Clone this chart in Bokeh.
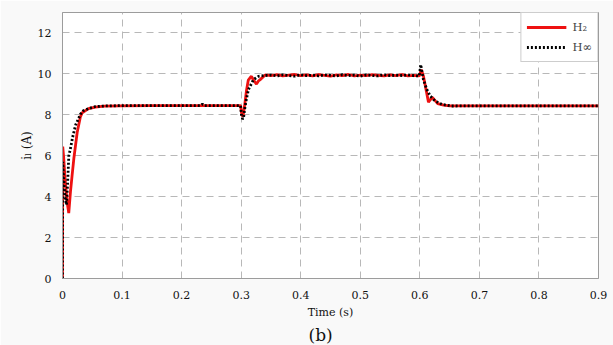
from bokeh.plotting import figure
from bokeh.models import (Range1d, FixedTicker, CustomJSTickFormatter, Title,
                          Legend, LegendItem)
from bokeh.embed import file_html
from bokeh.resources import INLINE

# ---------------- data ----------------
ripple_t = [0.35, 0.36, 0.37, 0.38, 0.39, 0.40, 0.41, 0.42, 0.43, 0.44, 0.45, 0.46,
            0.47, 0.48, 0.49, 0.50, 0.51, 0.52, 0.53, 0.54, 0.55, 0.56, 0.57, 0.58, 0.59]

t_h2 = ([0.0, 0.0004, 0.002, 0.004, 0.007, 0.0105, 0.0134, 0.016, 0.019, 0.0247, 0.030,
         0.0331, 0.0437, 0.055, 0.07, 0.097, 0.15, 0.2, 0.25, 0.299,
         0.3005, 0.303, 0.306, 0.309, 0.312, 0.3152, 0.3173, 0.3207, 0.3257, 0.329,
         0.3319, 0.3403] + ripple_t +
        [0.599, 0.6025, 0.606, 0.609, 0.6145, 0.618, 0.621, 0.626, 0.630, 0.640,
         0.650, 0.67, 0.7, 0.8, 0.9])
i_h2 = ([0.0, 6.45, 5.9, 5.0, 3.9, 3.2, 4.25, 5.0, 5.85, 7.15, 7.9,
         8.1, 8.3, 8.38, 8.42, 8.44, 8.45, 8.45, 8.45, 8.45,
         8.1, 7.9, 8.5, 9.2, 9.7, 9.82, 9.88, 9.7, 9.5, 9.65,
         9.72, 9.95] +
        [9.92, 9.96, 9.90, 9.94, 9.97, 9.91, 9.95, 9.90, 9.96, 9.93, 9.89, 9.95,
         9.92, 9.97, 9.90, 9.94, 9.91, 9.96, 9.93, 9.90, 9.95, 9.92, 9.96, 9.90, 9.93] +
        [9.9, 10.2, 9.9, 9.45, 8.62, 8.75, 8.85, 8.68, 8.55, 8.47,
         8.44, 8.44, 8.44, 8.44, 8.44])

t_hinf = ([0.0, 0.0004, 0.002, 0.004, 0.0067, 0.0085, 0.0106, 0.013, 0.017, 0.022,
           0.0302, 0.035, 0.045, 0.055, 0.07, 0.1, 0.2, 0.232, 0.235, 0.238, 0.299,
           0.3005, 0.3025, 0.304, 0.306, 0.309, 0.3123, 0.3207, 0.3291, 0.34] + ripple_t +
          [0.599, 0.6005, 0.6015, 0.603, 0.606, 0.6117, 0.6174, 0.6258, 0.637, 0.653,
           0.7, 0.8, 0.9])
i_hinf = ([0.0, 5.7, 4.9, 4.0, 3.6, 4.6, 6.0, 6.3, 6.9, 7.5,
           8.03, 8.2, 8.32, 8.4, 8.43, 8.45, 8.45, 8.45, 8.52, 8.45, 8.45,
           8.0, 7.79, 7.85, 8.3, 8.8, 9.24, 9.72, 9.88, 9.92] +
          [9.94, 9.90, 9.95, 9.92, 9.89, 9.96, 9.91, 9.94, 9.90, 9.95, 9.93, 9.90,
           9.96, 9.92, 9.94, 9.89, 9.95, 9.92, 9.90, 9.96, 9.91, 9.94, 9.92, 9.95, 9.91] +
          [9.9, 10.2, 10.45, 10.2, 9.72, 9.24, 8.92, 8.67, 8.51, 8.43,
           8.44, 8.44, 8.44])

x_ticks = [0, 0.1, 0.2, 0.3, 0.4, 0.5, 0.6, 0.7, 0.8, 0.9]
y_ticks = [0, 2, 4, 6, 8, 10, 12]
series_labels = ["H\u2082", "H\u221e"]
x_title = "Time (s)"
y_title = "i\u2097 (A)"
panel_tag = "(b)"

# ---------------- figure ----------------
FONT = "DejaVu Serif"
GRAY = "#9c9c9c"

p = figure(width=613, height=345, output_backend="svg", toolbar_location=None,
           x_range=Range1d(0, 0.9), y_range=Range1d(0, 13),
           min_border_left=62, min_border_right=15, min_border_top=12, min_border_bottom=64)
p.border_fill_color = "#f9f9f9"
p.background_fill_color = "white"
p.outline_line_color = GRAY
p.outline_line_width = 1

for ax in (p.xaxis, p.yaxis):
    ax.axis_line_color = GRAY
    ax.major_tick_line_color = None
    ax.minor_tick_line_color = None
    ax.major_label_text_font = FONT
    ax.major_label_text_font_size = "11px"
    ax.major_label_text_color = "#111111"
    ax.axis_label_text_font = FONT
    ax.axis_label_text_font_style = "normal"
    ax.axis_label_text_font_size = "11px"
    ax.axis_label_text_color = "#111111"

p.xaxis.ticker = FixedTicker(ticks=x_ticks)
p.yaxis.ticker = FixedTicker(ticks=y_ticks)
fmt = CustomJSTickFormatter(code="return tick.toFixed(1).replace(/\\.0$/, '');")
p.xaxis.formatter = fmt
p.yaxis.formatter = fmt
p.xaxis.major_label_standoff = 6
p.yaxis.major_label_standoff = 5
p.xaxis.axis_label = x_title
p.xaxis.axis_label_standoff = 4
p.yaxis.axis_label = y_title
p.yaxis.axis_label_standoff = 1
p.yaxis.axis_label_text_font_size = "12px"

p.grid.grid_line_color = "#b8b8b8"
p.grid.grid_line_dash = "7 5"
p.grid.grid_line_width = 1

r_h2 = p.line(t_h2, i_h2, line_color="#ee1111", line_width=2.8)
r_hinf = p.line(t_hinf, i_hinf, line_color="black", line_width=2.8,
                line_dash="2 2", line_cap="butt")

legend = Legend(items=[LegendItem(label=series_labels[0], renderers=[r_h2]),
                       LegendItem(label=series_labels[1], renderers=[r_hinf])],
                location="top_right", margin=0, padding=5, spacing=2,
                glyph_width=40, glyph_height=18, label_standoff=6, label_width=10,
                label_text_font=FONT, label_text_font_size="11.5px",
                border_line_color=GRAY, border_line_width=1,
                background_fill_color="white", background_fill_alpha=1.0)
p.add_layout(legend)

p.add_layout(Title(text=panel_tag, align="left", offset=246, standoff=2,
                   text_font=FONT, text_font_size="17px", text_font_style="normal",
                   text_color="#111111"), "below")

open("out.html", "w").write(file_html(p, INLINE))
